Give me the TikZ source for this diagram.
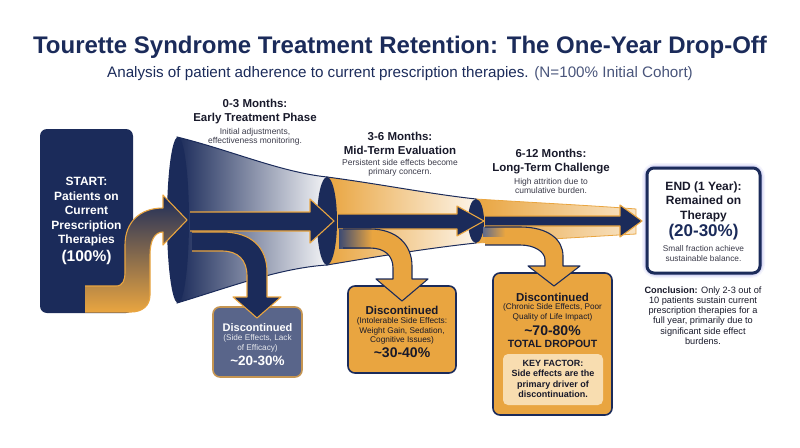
\documentclass[tikz,border=0pt]{standalone}
\usepackage{fontspec}
\setmainfont{Liberation Sans}
\usetikzlibrary{positioning}
\definecolor{navy}{HTML}{1B2B5A}
\definecolor{gold}{HTML}{E9A540}
\definecolor{paleGold}{HTML}{F8DDB0}
\definecolor{slate}{HTML}{59658A}
\definecolor{ink}{HTML}{18192A}
\newcommand{\fsz}[2]{\fontsize{#1}{#2}\selectfont}

\tikzset{
	box/.style={rounded corners=7pt, line width=1.6pt, inner sep=0pt},
	txt/.style={align=center, inner sep=0pt, text=ink},
	phase/.style={txt, font=\fsz{11.5pt}{13.5pt}\bfseries},
	note/.style={txt, text=ink!85, font=\fsz{8.5pt}{9.5pt}},
	navyarrow/.style={fill=navy, draw=gold, line width=1.1pt, line join=round},
	goldarrow/.style={draw=navy, line width=1.1pt, line join=round},
}

\begin{document}
\begin{tikzpicture}[x=1pt, y=-1pt]
	\useasboundingbox (0,0) rectangle (800,447);
	%titles
	\node[txt, text=navy, font=\fsz{24pt}{28pt}\bfseries] (title) at (400,47) {Tourette Syndrome Treatment Retention: The One-Year Drop-Off};
	\node[txt, text=navy, font=\fsz{15.2pt}{18pt}] (subtitle) at (400,74) {Analysis of patient adherence to current prescription therapies. \textcolor{navy!80}{(N=100\% Initial Cohort)}};
	%phase headings
	\node[phase] (phaseA) at (255,111.5) {0-3 Months:\\Early Treatment Phase};
	\node[note, below=4pt of phaseA] (noteA) {Initial adjustments,\\effectiveness monitoring.};
	\node[phase] (phaseB) at (400,143.5) {3-6 Months:\\Mid-Term Evaluation};
	\node[note, below=4pt of phaseB] (noteB) {Persistent side effects become\\primary concern.};
	\node[phase] (phaseC) at (551,161.5) {6-12 Months:\\Long-Term Challenge};
	\node[note, below=4pt of phaseC] (noteC) {High attrition due to\\cumulative burden.};
	%start box
	\node[box, fill=navy, minimum width=93pt, minimum height=184pt] (start) at (86.5,221) {};
	%funnels
	\path[left color=navy, right color=navy!5, draw=navy, line width=1pt]
		(177,137) .. controls (230,150) and (280,172) .. (327,177)
		-- (327,265) .. controls (280,268) and (230,287) .. (177,303) -- cycle;
	\path[left color=gold, right color=gold!12, draw=navy, line width=1pt]
		(327,177) .. controls (380,184) and (430,194) .. (476,199)
		-- (476,243) .. controls (430,248) and (380,256) .. (327,265) -- cycle;
	\path[left color=gold, right color=gold!30, draw=gold, line width=0.8pt]
		(476,199) .. controls (540,203) and (600,206) .. (636,209)
		-- (636,234) .. controls (600,236) and (540,240) .. (476,243) -- cycle;
	%rims
	\fill[navy] (178,220) ellipse [x radius=11, y radius=83];
	\fill[navy] (327,221) ellipse [x radius=10, y radius=44];
	\fill[navy] (476,221) ellipse [x radius=8, y radius=22];
	%end box with glow
	\foreach \w/\o in {10/0.05,7/0.08,4.5/0.12}
	\draw[blue!60!navy, line width=\w pt, opacity=\o, rounded corners=9pt] (647,168) rectangle (760,273);
	\node[box, draw=navy, line width=3pt, fill=white, minimum width=113pt, minimum height=105pt] (endbox) at (703.5,220.5) {};
	%dropout boxes
	\node[box, fill=slate, draw=gold!75!slate, minimum width=89pt, minimum height=70pt] (dropA) at (257.5,342) {};
	\node[box, fill=gold, draw=navy, minimum width=108pt, minimum height=87pt] (dropB) at (402,329.5) {};
	\node[box, fill=gold, draw=navy, minimum width=119pt, minimum height=142pt] (dropC) at (552.5,344) {};
	\node[box, fill=paleGold, rounded corners=5pt, minimum width=100pt, minimum height=51pt] (keybox) at (553,379.5) {};
	%s-arrow out of start
	\draw[gold, line width=1.1pt, top color=navy, middle color=navy, bottom color=gold, line join=round]
		(85,286) -- (116,286) .. controls (123,286) and (125,280) .. (125,272) -- (125,245)
		.. controls (125,222) and (140,208) .. (163,208) -- (163,195) -- (187,220) -- (163,245) -- (163,232)
		.. controls (155,232) and (150,240) .. (150,255) -- (150,295)
		.. controls (150,306) and (142,312) .. (131,312) -- (85,312);
	%main arrows
	\draw[navyarrow] (190,212) -- (310,212) -- (310,199) -- (334,221) -- (310,243) -- (310,231) -- (190,231);
	\draw[navyarrow] (338,214) -- (457,214) -- (457,206) -- (484,221) -- (457,236) -- (457,229) -- (338,229);
	\draw[navyarrow] (485,216) -- (620,216) -- (620,205) -- (642,221) -- (620,237) -- (620,226) -- (485,226);
	%down arrows
	\draw[navyarrow] (192,232) -- (222,232) .. controls (252,232) and (267,248) .. (267,272) -- (267,297)
		-- (281,297) -- (257,318) -- (233,297) -- (247,297) -- (247,276)
		.. controls (247,260) and (238,251) .. (222,251) -- (192,251);
	\fill[gold] (343,229) -- (370,229) .. controls (397,229) and (412,245) .. (412,266) -- (412,279)
		-- (428,279) -- (402,301) -- (376,279) -- (393,279) -- (393,268)
		.. controls (393,256) and (385,248) .. (370,248) -- (343,248) -- cycle;
	\fill[left color=navy!85, right color=gold] (339,229) rectangle (372,248);
	\draw[goldarrow] (343,229) -- (370,229) .. controls (397,229) and (412,245) .. (412,266) -- (412,279)
		-- (428,279) -- (402,301) -- (376,279) -- (393,279) -- (393,268)
		.. controls (393,256) and (385,248) .. (370,248) -- (343,248);
	\fill[gold] (485,227) -- (520,227) .. controls (549,227) and (563,240) .. (563,256) -- (563,266)
		-- (580,266) -- (554,286) -- (528,266) -- (545,266) -- (545,260)
		.. controls (545,252) and (535,245) .. (520,245) -- (485,245) -- cycle;
	\fill[left color=navy!70, right color=gold] (483,227) rectangle (505,236);
	\draw[goldarrow] (485,227) -- (520,227) .. controls (549,227) and (563,240) .. (563,256) -- (563,266)
		-- (580,266) -- (554,286) -- (528,266) -- (545,266) -- (545,260)
		.. controls (545,252) and (535,245) .. (520,245) -- (485,245);
	%start text
	\node[txt, text=white, font=\fsz{12pt}{14.5pt}\bfseries] (startText) at (86.5,212) {START:\\Patients on\\Current\\Prescription\\Therapies};
	\node[txt, text=white, font=\fsz{15.5pt}{18pt}\bfseries] (startPct) at (86.5,257) {(100\%)};
	%end text
	\node[txt, font=\fsz{12pt}{14.5pt}\bfseries] (endText) at (703.5,201.5) {END (1 Year):\\Remained on\\Therapy};
	\node[txt, text=navy, font=\fsz{17pt}{20pt}\bfseries] (endPct) at (703.5,232) {(20-30\%)};
	\node[note, font=\fsz{8.3pt}{9.5pt}] (endNote) at (703.5,253.5) {Small fraction achieve\\sustainable balance.};
	%dropout texts
	\node[txt, text=white, font=\fsz{11pt}{13pt}\bfseries] (dropAHead) at (257.5,328) {Discontinued};
	\node[txt, text=white!85!slate, font=\fsz{8.2pt}{9.5pt}] (dropANote) at (257.5,343.5) {(Side Effects, Lack\\of Efficacy)};
	\node[txt, text=white, font=\fsz{13.5pt}{16pt}\bfseries] (dropAPct) at (257.5,361) {\textasciitilde 20-30\%};
	\node[txt, font=\fsz{11.5pt}{13pt}\bfseries] (dropBHead) at (402,310) {Discontinued};
	\node[txt, font=\fsz{8.3pt}{9.3pt}] (dropBNote) at (402,331) {(Intolerable Side Effects:\\Weight Gain, Sedation,\\Cognitive Issues)};
	\node[txt, font=\fsz{14pt}{16pt}\bfseries] (dropBPct) at (402,353) {\textasciitilde 30-40\%};
	\node[txt, font=\fsz{11.5pt}{13pt}\bfseries] (dropCHead) at (552.5,297) {Discontinued};
	\node[txt, font=\fsz{8.2pt}{9.5pt}] (dropCNote) at (552.5,312.5) {(Chronic Side Effects, Poor\\Quality of Life Impact)};
	\node[txt, font=\fsz{14pt}{16pt}\bfseries] (dropCPct) at (552.5,331) {\textasciitilde 70-80\%};
	\node[txt, font=\fsz{10.5pt}{12pt}\bfseries] (dropCTotal) at (552.5,344) {TOTAL DROPOUT};
	\node[txt, font=\fsz{9pt}{10.5pt}\bfseries] (keyText) at (553,379) {KEY FACTOR:\\Side effects are the\\primary driver of\\discontinuation.};
	%conclusion
	\node[txt, font=\fsz{9.2pt}{10.3pt}] (conclusion) at (703,315.5) {\textbf{Conclusion:} Only 2-3 out of\\10 patients sustain current\\prescription therapies for a\\full year, primarily due to\\significant side effect\\burdens.};
\end{tikzpicture}
\end{document}
